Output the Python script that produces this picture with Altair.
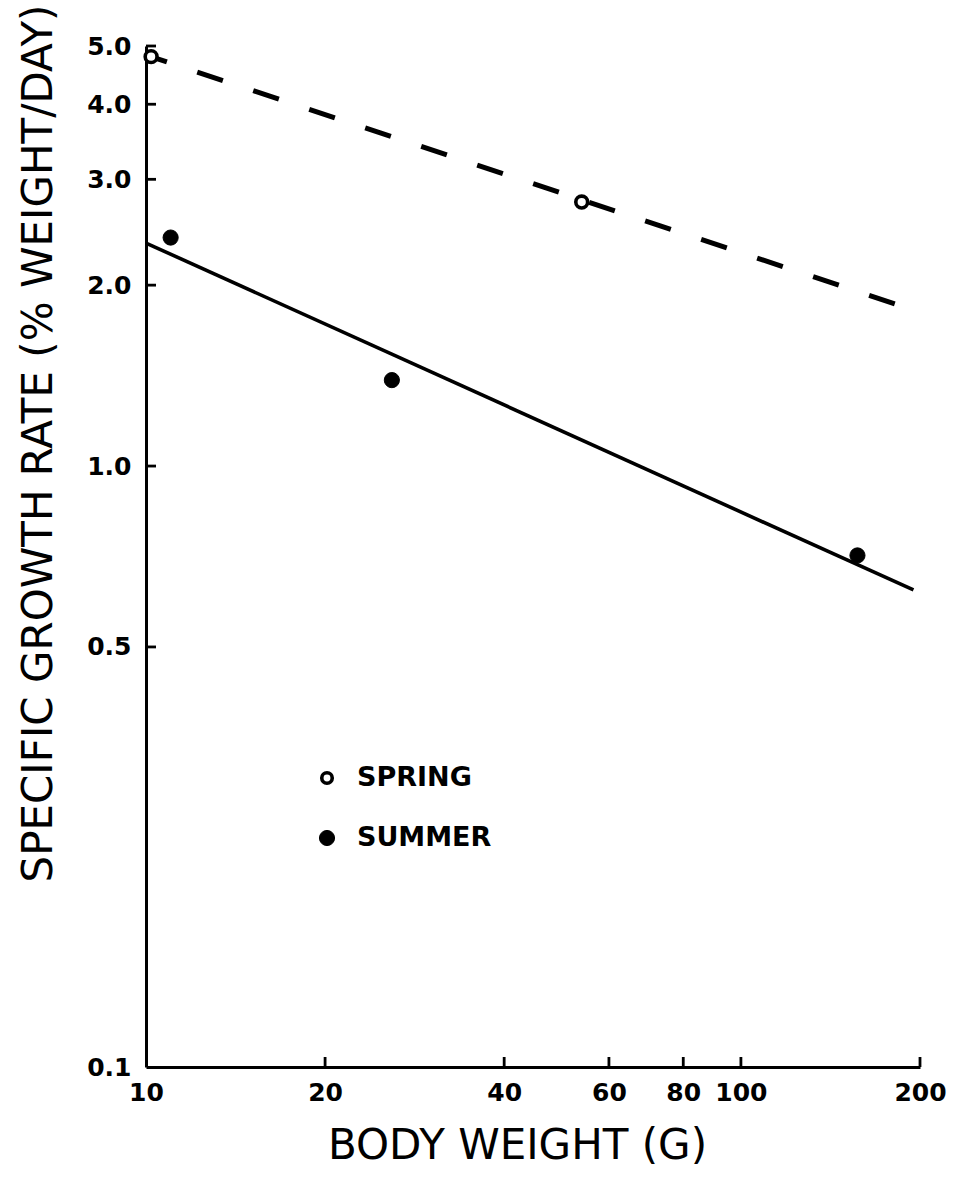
import altair as alt
import pandas as pd

# Observed growth rates (% body weight per day) against body weight (g)
spring_weight = [10.2, 54.0]
spring_rate = [4.8, 2.75]
summer_weight = [11.0, 25.9, 157.0]
summer_rate = [2.40, 1.39, 0.71]

# Fitted log-log regression lines, given by their end points
spring_fit_weight = [10.0, 182.0]
spring_fit_rate = [4.83, 1.86]
summer_fit_weight = [10.0, 195.0]
summer_fit_rate = [2.35, 0.622]

x_ticks = [10, 20, 40, 60, 80, 100, 200]
y_ticks = [0.1, 0.5, 1.0, 2.0, 3.0, 4.0, 5.0]
legend_labels = ["SPRING", "SUMMER"]

FONT = "DejaVu Sans"
W, H = 774, 1021

x_scale = alt.Scale(type="log", domain=[10, 200], nice=False)
y_scale = alt.Scale(type="log", domain=[0.1, 5.0], nice=False)

x_axis = alt.Axis(
    values=x_ticks, format="d", ticks=False, grid=False,
    domainColor="black", domainWidth=3,
    labelFont=FONT, labelFontSize=25, labelFontWeight="bold", labelColor="black",
    labelPadding=13, labelFlush=False, labelOverlap=False,
    title="BODY WEIGHT (G)", titleFont=FONT, titleFontSize=42,
    titleFontWeight="normal", titleColor="black",
    titleX=371, titleY=78, titleAlign="center", titleBaseline="middle",
)
y_axis = alt.Axis(
    values=y_ticks, format=".1f", ticks=False, grid=False,
    domainColor="black", domainWidth=3,
    labelFont=FONT, labelFontSize=25, labelFontWeight="bold", labelColor="black",
    labelPadding=15, labelFlush=False, labelOverlap=False,
    title="SPECIFIC GROWTH RATE (% WEIGHT/DAY)", titleFont=FONT, titleFontSize=42,
    titleFontWeight="normal", titleColor="black", titleAngle=270,
    titleX=-108, titleY=397, titleAlign="center", titleBaseline="middle",
)


def xenc(field):
    return alt.X(f"{field}:Q", scale=x_scale, axis=x_axis)


def yenc(field):
    return alt.Y(f"{field}:Q", scale=y_scale, axis=y_axis)


spring_df = pd.DataFrame({"weight": spring_weight, "rate": spring_rate})
summer_df = pd.DataFrame({"weight": summer_weight, "rate": summer_rate})
spring_fit = pd.DataFrame({"weight": spring_fit_weight, "rate": spring_fit_rate})
summer_fit = pd.DataFrame({"weight": summer_fit_weight, "rate": summer_fit_rate})

spring_line = alt.Chart(spring_fit).mark_line(
    color="black", strokeWidth=5, strokeDash=[27, 32], strokeDashOffset=5, strokeCap="butt"
).encode(x=xenc("weight"), y=yenc("rate"))

summer_line = alt.Chart(summer_fit).mark_line(
    color="black", strokeWidth=3.6
).encode(x=xenc("weight"), y=yenc("rate"))

spring_pts = alt.Chart(spring_df).mark_point(
    shape="circle", filled=True, fill="white", stroke="black", strokeWidth=3.6, size=140, opacity=1
).encode(x=xenc("weight"), y=yenc("rate"))

summer_pts = alt.Chart(summer_df).mark_point(
    shape="circle", filled=True, fill="black", stroke="black", strokeWidth=1, size=230, opacity=1
).encode(x=xenc("weight"), y=yenc("rate"))

# Inward-pointing tick marks on both axes
xt_df = pd.DataFrame({"weight": x_ticks[1:]})
x_tick_marks = alt.Chart(xt_df).mark_rule(color="black", strokeWidth=2.8).encode(
    x=xenc("weight"), y=alt.value(H), y2=alt.value(H - 10)
)
yt_df = pd.DataFrame({"rate": y_ticks[1:]})
y_tick_marks = alt.Chart(yt_df).mark_rule(color="black", strokeWidth=2.8).encode(
    y=yenc("rate"), x=alt.value(0), x2=alt.value(10)
)

# Key in the lower-left part of the plot
legend_layers = []
for i, (label, filled) in enumerate(zip(legend_labels, [False, True])):
    ldf = pd.DataFrame({"label": [label]})
    ypos = 732 + i * 60
    if filled:
        sym = alt.Chart(ldf).mark_point(
            shape="circle", filled=True, fill="black", stroke="black", strokeWidth=1, size=230, opacity=1
        )
    else:
        sym = alt.Chart(ldf).mark_point(
            shape="circle", filled=False, stroke="black", strokeWidth=3.6, size=110, opacity=1
        )
    legend_layers.append(sym.encode(x=alt.value(181), y=alt.value(ypos)))
    legend_layers.append(
        alt.Chart(ldf).mark_text(
            align="left", baseline="middle", font=FONT, fontSize=27, fontWeight="bold", color="black"
        ).encode(x=alt.value(211), y=alt.value(ypos), text="label:N")
    )

chart = alt.layer(
    spring_line, summer_line, spring_pts, summer_pts, x_tick_marks, y_tick_marks, *legend_layers
).properties(
    width=W, height=H,
    padding={"left": 146, "top": 46, "right": 33, "bottom": 115},
    autosize=alt.AutoSizeParams(type="none"),
    background="white",
).configure_view(stroke=None)

chart.save("out.html", embed_options={"renderer": "svg", "actions": False})
